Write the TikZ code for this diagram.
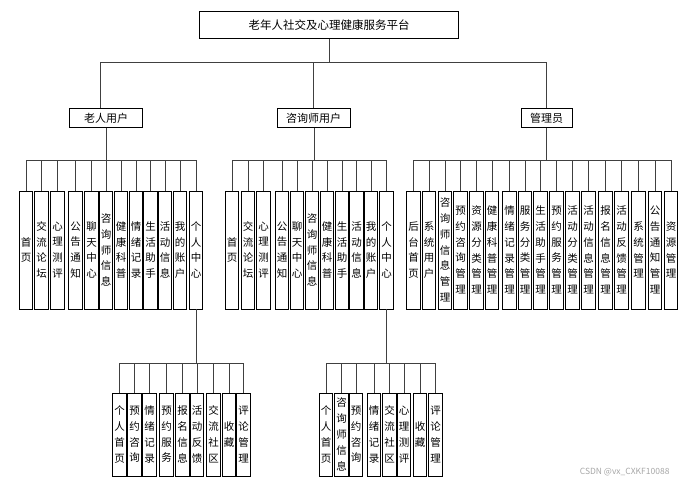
\documentclass[tikz,border=0pt]{standalone}
\usepackage{fontspec}
\setmainfont{Noto Sans CJK SC}
\usepackage{tikz}
\usetikzlibrary{positioning,calc}
\tikzset{
  link/.style={draw=black!75, line width=0.9pt},
  rootbox/.style={draw, line width=0.9pt, minimum width=259pt, minimum height=27pt, inner sep=0pt, font=\fontsize{11.5}{13}\selectfont},
  rolebox/.style={draw, line width=0.9pt, minimum height=19pt, inner sep=0pt, font=\fontsize{11}{13}\selectfont},
  leafbox/.style={draw, line width=0.9pt, minimum width=13.5pt, minimum height=118pt, inner sep=0pt, align=center, font=\fontsize{10.5}{15.8}\selectfont},
  subleaf/.style={leafbox, minimum height=83pt},
  mark text/.style={text=black!35, font=\fontsize{8.5}{10}\selectfont}
}
\begin{document}
\begin{tikzpicture}[x=1pt, y=-1pt]
      \useasboundingbox (0,0) rectangle (685,487);
      % top levels
      \node[rootbox] (root) at (329,25) {老年人社交及心理健康服务平台};
      \node[rolebox, minimum width=73pt] (elder) at (106,118) {老人用户};
      \node[rolebox, minimum width=73pt] (coun) at (313.5,118) {咨询师用户};
      \node[rolebox, minimum width=51pt] (admin) at (546.5,118) {管理员};
      \coordinate (t) at (329,62);
      \draw[link] (root) -- (t);
      \draw[link] (t) -| ([xshift=-6pt]elder.north);
      \draw[link] (t) -| (coun.north);
      \draw[link] (t) -| (admin.north);
      % elder user
      \node[leafbox] (e1) at (26,250) {首\\页};
      \node[leafbox] (e2) at (41.5,250) {交\\流\\论\\坛};
      \node[leafbox] (e3) at (57.5,250) {心\\理\\测\\评};
      \node[leafbox] (e4) at (75.5,250) {公\\告\\通\\知};
      \node[leafbox] (e5) at (91.5,250) {聊\\天\\中\\心};
      \node[leafbox] (e6) at (106,250) {咨\\询\\师\\信\\息};
      \node[leafbox] (e7) at (121,250) {健\\康\\科\\普};
      \node[leafbox] (e8) at (136,250) {情\\绪\\记\\录};
      \node[leafbox] (e9) at (150.5,250) {生\\活\\助\\手};
      \node[leafbox] (e10) at (165,250) {活\\动\\信\\息};
      \node[leafbox] (e11) at (180,250) {我\\的\\账\\户};
      \node[leafbox] (e12) at (196,250) {个\\人\\中\\心};
      \coordinate (eb) at (106,160);
      \draw[link] (elder) -- (eb);
      \foreach \i in {1,...,12} \draw[link] (eb) -| (e\i.north);
      % elder personal centre
      \node[subleaf] (ep1) at (119.5,434.5) {个\\人\\首\\页};
      \node[subleaf] (ep2) at (134.5,434.5) {预\\约\\咨\\询};
      \node[subleaf] (ep3) at (149.5,434.5) {情\\绪\\记\\录};
      \node[subleaf] (ep4) at (166.5,434.5) {预\\约\\服\\务};
      \node[subleaf] (ep5) at (182.5,434.5) {报\\名\\信\\息};
      \node[subleaf] (ep6) at (197,434.5) {活\\动\\反\\馈};
      \node[subleaf] (ep7) at (213.5,434.5) {交\\流\\社\\区};
      \node[subleaf] (ep8) at (229,434.5) {收\\藏};
      \node[subleaf] (ep9) at (243.5,434.5) {评\\论\\管\\理};
      \coordinate (epb) at (196,363);
      \draw[link] (e12) -- (epb);
      \foreach \i in {1,...,9} \draw[link] (epb) -| (ep\i.north);
      % counsellor user
      \node[leafbox] (c1) at (232,250) {首\\页};
      \node[leafbox] (c2) at (248,250) {交\\流\\论\\坛};
      \node[leafbox] (c3) at (263.5,250) {心\\理\\测\\评};
      \node[leafbox] (c4) at (282,250) {公\\告\\通\\知};
      \node[leafbox] (c5) at (297,250) {聊\\天\\中\\心};
      \node[leafbox] (c6) at (312,250) {咨\\询\\师\\信\\息};
      \node[leafbox] (c7) at (327,250) {健\\康\\科\\普};
      \node[leafbox] (c8) at (342,250) {生\\活\\助\\手};
      \node[leafbox] (c9) at (356.5,250) {活\\动\\信\\息};
      \node[leafbox] (c10) at (371,250) {我\\的\\账\\户};
      \node[leafbox] (c11) at (386.5,250) {个\\人\\中\\心};
      \coordinate (cb) at (314,160);
      \draw[link] ([xshift=0.5pt]coun.south) -- (cb);
      \foreach \i in {1,...,11} \draw[link] (cb) -| (c\i.north);
      % counsellor personal centre
      \node[subleaf] (cp1) at (326,434.5) {个\\人\\首\\页};
      \node[subleaf] (cp2) at (341.5,434.5) {咨\\询\\师\\信\\息};
      \node[subleaf] (cp3) at (356,434.5) {预\\约\\咨\\询};
      \node[subleaf] (cp4) at (374,434.5) {情\\绪\\记\\录};
      \node[subleaf] (cp5) at (389.5,434.5) {交\\流\\社\\区};
      \node[subleaf] (cp6) at (404,434.5) {心\\理\\测\\评};
      \node[subleaf] (cp7) at (420,434.5) {收\\藏};
      \node[subleaf] (cp8) at (435.5,434.5) {评\\论\\管\\理};
      \coordinate (cpb) at (386.5,363);
      \draw[link] (c11) -- (cpb);
      \foreach \i in {1,...,8} \draw[link] (cpb) -| (cp\i.north);
      % administrator
      \node[leafbox] (m1) at (413.5,250) {后\\台\\首\\页};
      \node[leafbox] (m2) at (429,250) {系\\统\\用\\户};
      \node[leafbox] (m3) at (445,250) {咨\\询\\师\\信\\息\\管\\理};
      \node[leafbox] (m4) at (460.5,250) {预\\约\\咨\\询\\管\\理};
      \node[leafbox] (m5) at (476.5,250) {资\\源\\分\\类\\管\\理};
      \node[leafbox] (m6) at (492,250) {健\\康\\科\\普\\管\\理};
      \node[leafbox] (m7) at (509.5,250) {情\\绪\\记\\录\\管\\理};
      \node[leafbox] (m8) at (525,250) {服\\务\\分\\类\\管\\理};
      \node[leafbox] (m9) at (540.5,250) {生\\活\\助\\手\\管\\理};
      \node[leafbox] (m10) at (556.5,250) {预\\约\\服\\务\\管\\理};
      \node[leafbox] (m11) at (572.5,250) {活\\动\\分\\类\\管\\理};
      \node[leafbox] (m12) at (588.5,250) {活\\动\\信\\息\\管\\理};
      \node[leafbox] (m13) at (605.5,250) {报\\名\\信\\息\\管\\理};
      \node[leafbox] (m14) at (621.5,250) {活\\动\\反\\馈\\管\\理};
      \node[leafbox] (m15) at (638.5,250) {系\\统\\管\\理};
      \node[leafbox] (m16) at (655,250) {公\\告\\通\\知\\管\\理};
      \node[leafbox] (m17) at (671,250) {资\\源\\管\\理};
      \coordinate (mb) at (546.5,160);
      \draw[link] (admin) -- (mb);
      \foreach \i in {1,...,17} \draw[link] (mb) -| (m\i.north);
      \node[mark text, anchor=east] (wm) at (673,472) {CSDN @vx\_CXKF10088};
    \end{tikzpicture}
\end{document}
